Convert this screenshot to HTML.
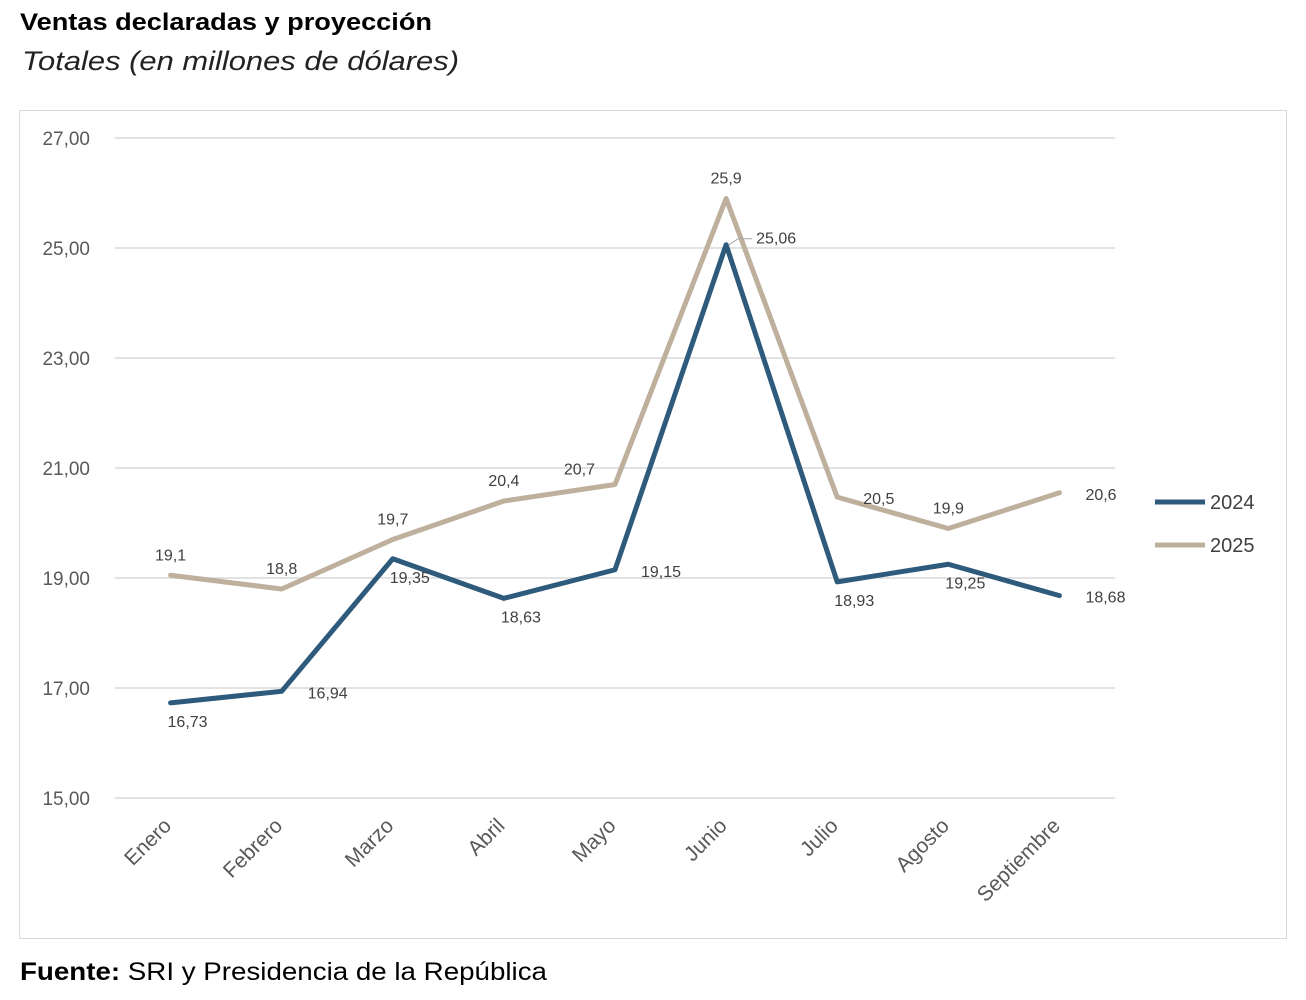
<!DOCTYPE html>
<html><head><meta charset="utf-8"><style>
body{margin:0;background:#fff;width:1306px;height:1000px;overflow:hidden;font-family:"Liberation Sans",sans-serif}
</style></head><body>
<svg width="1306" height="1000" style="position:absolute;left:0;top:0">
<text x="20" y="30" font-size="24" font-weight="bold" fill="#000" textLength="412" lengthAdjust="spacingAndGlyphs">Ventas declaradas y proyección</text>
<text x="22" y="70" font-size="27" font-style="italic" fill="#222" textLength="437" lengthAdjust="spacingAndGlyphs">Totales (en millones de dólares)</text>
<rect x="19.5" y="110.5" width="1267" height="828" fill="none" stroke="#d9d9d9"/>
<g id="grid"></g><g id="yt"></g><g id="xt"></g><g id="lines"></g><g id="labels"></g>
<g>
<line x1="1155" y1="502" x2="1205" y2="502" stroke="#2e5a7c" stroke-width="5"/>
<text x="1210" y="509" font-size="20" fill="#404040">2024</text>
<line x1="1155" y1="545" x2="1205" y2="545" stroke="#bfb09e" stroke-width="5"/>
<text x="1210" y="552" font-size="20" fill="#404040">2025</text>
</g>
<text x="20" y="980" font-size="25" fill="#000" textLength="527" lengthAdjust="spacingAndGlyphs"><tspan font-weight="bold">Fuente:</tspan> SRI y Presidencia de la República</text>
</svg>
<script>
const categories=["Enero","Febrero","Marzo","Abril","Mayo","Junio","Julio","Agosto","Septiembre"];
const values2024=[16.73,16.94,19.35,18.63,19.15,25.06,18.93,19.25,18.68];
const values2025=[19.05,18.8,19.7,20.4,20.7,25.9,20.47,19.9,20.55];
const labels2024=["16,73","16,94","19,35","18,63","19,15","25,06","18,93","19,25","18,68"];
const labels2025=["19,1","18,8","19,7","20,4","20,7","25,9","20,5","19,9","20,6"];
const place2024=["below","right","below","below","right","right","below","below","right"];
const place2025=["above","above","above","above","left","above","right","above","right"];
const yTicks=[15,17,19,21,23,25,27];
const yTickLabels=["15,00","17,00","19,00","21,00","23,00","25,00","27,00"];
const NS="http://www.w3.org/2000/svg";
const x0=115,x1=1115,yBase=798,pxPer=55;
const step=(x1-x0)/categories.length;
const X=i=>x0+step*(i+0.5);
const Y=v=>yBase-(v-15)*pxPer;
function mk(tag,attrs,parent){const e=document.createElementNS(NS,tag);for(const k in attrs)e.setAttribute(k,attrs[k]);document.getElementById(parent).appendChild(e);return e;}
yTicks.forEach((t,i)=>{
 const l=mk("line",{x1:x0,x2:x1,y1:Y(t),y2:Y(t),stroke:"#d9d9d9","stroke-width":1.5},"grid");
 
 
 const tx=mk("text",{x:90,y:Y(t)+7,"font-size":19,fill:"#595959","text-anchor":"end"},"yt");
 tx.textContent=yTickLabels[i];
 
 
});
categories.forEach((c,i)=>{
 const tx=mk("text",{x:X(i)+2,y:827,"font-size":21,fill:"#595959","text-anchor":"end",transform:`rotate(-45 ${X(i)+2} 827)`},"xt");
 tx.textContent=c;
 
 
});
function series(vals,color,name){
 const p=mk("polyline",{points:vals.map((v,i)=>X(i)+","+Y(v)).join(" "),fill:"none",stroke:color,"stroke-width":5,"stroke-linejoin":"round","stroke-linecap":"round"},"lines");
 
 
}
series(values2025,"#bfb09e","line-2025");
series(values2024,"#2e5a7c","line-2024");
const lead=mk("polyline",{points:`${X(5)+3},${Y(values2024[5])} ${X(5)+12},${Y(values2024[5])-6} ${X(5)+26},${Y(values2024[5])-6}`,fill:"none",stroke:"#a6a6a6","stroke-width":1},"labels");


function labs(vals,txt,pl,name){
 vals.forEach((v,i)=>{
  let x=X(i),y=Y(v),a="middle";
  if(pl[i]==="below"){x+=17;y+=24;}
  else if(pl[i]==="above"){y-=15;}
  else if(pl[i]==="right"){x+=26;y+=7;a="start";}
  else if(pl[i]==="left"){x-=20;y-=10;a="end";}
  if(name==="data-label-2024"&&i===5){x=X(i)+30;y=Y(v)-1;}
  const t=mk("text",{x:x,y:y,"font-size":16,fill:"#404040","text-anchor":a},"labels");
  t.textContent=txt[i];
  
  
 });
}
labs(values2024,labels2024,place2024,"data-label-2024");
labs(values2025,labels2025,place2025,"data-label-2025");
</script>
</body></html>
